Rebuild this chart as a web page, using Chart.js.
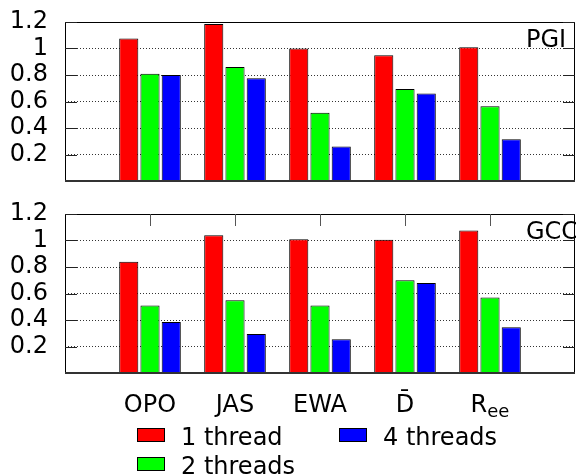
<!DOCTYPE html>
<html>
<head>
<meta charset="utf-8">
<script src="https://cdn.jsdelivr.net/npm/chart.js@4"></script>
<style>
    html, body { margin: 0; padding: 0; background: #fff; }
    body { width: 576px; height: 476px; position: relative; overflow: hidden; font-family: 'DejaVu Sans', sans-serif; }
    .panel { position: absolute; left: 0; width: 576px; }
    #legend { position: absolute; left: 0; top: 0; width: 576px; height: 476px; pointer-events: none; }
    .item { position: absolute; font-size: 24px; line-height: 24px; color: #000; white-space: nowrap; }
    .swatch { position: absolute; width: 26px; height: 12px; border: 1px solid #000; }
</style>
</head>
<body>
<div class="panel" id="topWrap" style="top:0;height:190px;"><canvas id="pgiChart"></canvas></div>
<div class="panel" id="botWrap" style="top:190px;height:230px;"><canvas id="gccChart"></canvas></div>
<div id="legend"></div>

<script>
// categories on the x axis (empty slots at both ends, like the gnuplot original)
const categories = ['', 'OPO', 'JAS', 'EWA', 'D\u0304', 'R', ''];
const subscripts = ['', '', '', '', '', 'ee', ''];
const seriesNames = ['1 thread', '2 threads', '4 threads'];
const seriesColors = ['#ff0000', '#00ff00', '#0000ff'];

// PGI compiler
const pgi1 = [1.075, 1.185, 1.00, 0.95, 1.01];
const pgi2 = [0.81, 0.86, 0.515, 0.695, 0.565];
const pgi4 = [0.80, 0.775, 0.26, 0.66, 0.315];

// GCC compiler
const gcc1 = [0.84, 1.04, 1.01, 1.005, 1.075];
const gcc2 = [0.51, 0.55, 0.51, 0.70, 0.57];
const gcc4 = [0.385, 0.295, 0.255, 0.68, 0.345];

const yTicks = [0, 0.2, 0.4, 0.6, 0.8, 1, 1.2];

const FONT = 'DejaVu Sans';

// pad with nulls for the empty slots at both ends
function pad(arr) {
    return [null, ...arr, null];
}

// plot frame, inward tick marks, category labels and panel title
function framePlugin(title, bottomPanel) {
    return {
        id: 'frame_' + title,
        afterDraw(chart) {
            const { ctx, chartArea: a, scales } = chart;
            ctx.save();
            ctx.strokeStyle = '#000';
            ctx.lineWidth = 1;
            ctx.strokeRect(a.left + 0.5, a.top + 0.5, a.right - a.left - 1, a.bottom - a.top);

            // y ticks, inward on both sides
            ctx.strokeStyle = '#222';
            yTicks.forEach(v => {
                const y = Math.round(scales.y.getPixelForValue(v)) + 0.5;
                ctx.beginPath();
                ctx.moveTo(a.left, y); ctx.lineTo(a.left + 12, y);
                ctx.moveTo(a.right, y); ctx.lineTo(a.right - 12, y);
                ctx.stroke();
            });

            if (bottomPanel) {
                // x ticks on the top border
                ctx.strokeStyle = '#555';
                for (let i = 1; i < categories.length - 1; i++) {
                    const x = Math.round(scales.x.getPixelForValue(i)) + 0.5;
                    ctx.beginPath();
                    ctx.moveTo(x, a.top); ctx.lineTo(x, a.top + 12);
                    ctx.stroke();
                }

                // category labels (with subscripts)
                ctx.fillStyle = '#000';
                ctx.textBaseline = 'alphabetic';
                ctx.textAlign = 'left';
                const baseY = a.bottom + 39;
                categories.forEach((lab, i) => {
                    if (!lab) return;
                    ctx.font = '24px "' + FONT + '"';
                    const w1 = ctx.measureText(lab).width;
                    ctx.font = '18px "' + FONT + '"';
                    const w2 = subscripts[i] ? ctx.measureText(subscripts[i]).width : 0;
                    const x0 = scales.x.getPixelForValue(i) - (w1 + w2) / 2;
                    ctx.font = '24px "' + FONT + '"';
                    ctx.fillText(lab, x0, baseY);
                    if (subscripts[i]) {
                        ctx.font = '18px "' + FONT + '"';
                        ctx.fillText(subscripts[i], x0 + w1, baseY + 5);
                    }
                });
            }

            // bottom axis line
            ctx.strokeStyle = '#333';
            ctx.lineWidth = 2;
            ctx.beginPath();
            ctx.moveTo(a.left, a.bottom); ctx.lineTo(a.right, a.bottom);
            ctx.stroke();

            // title in top right corner
            ctx.fillStyle = '#000';
            ctx.font = '24px "' + FONT + '"';
            ctx.textAlign = 'left';
            ctx.textBaseline = 'alphabetic';
            ctx.fillText(title, 526, a.top + 25);
            ctx.restore();
        }
    };
}

function makeChart(canvasId, s1, s2, s4, title, bottomPanel, padding) {
    const ctx = document.getElementById(canvasId).getContext('2d');
    const data = [s1, s2, s4];
    return new Chart(ctx, {
        type: 'bar',
        data: {
            labels: categories,
            datasets: seriesNames.map((name, i) => ({
                label: name,
                data: pad(data[i]),
                backgroundColor: seriesColors[i],
                borderColor: '#000',
                borderWidth: 1,
                categoryPercentage: 0.75,
                barPercentage: 0.9
            }))
        },
        options: {
            responsive: true,
            maintainAspectRatio: false,
            animation: false,
            layout: { padding: padding },
            plugins: {
                legend: { display: false },
                tooltip: { enabled: false }
            },
            scales: {
                x: {
                    display: false,
                    offset: false,
                    grid: { display: false }
                },
                y: {
                    min: 0,
                    max: 1.2,
                    ticks: {
                        stepSize: 0.2,
                        autoSkip: false,
                        padding: 0,
                        color: '#000',
                        font: { family: FONT, size: 24 },
                        callback: v => (Math.abs(v) < 1e-9 ? '' : String(Math.round(v * 10) / 10))
                    },
                    grid: {
                        drawTicks: true,
                        tickLength: 17,
                        tickColor: 'rgba(0,0,0,0)',
                        color: '#333',
                        lineWidth: 1
                    },
                    border: { display: false, dash: [1, 2] },
                    afterFit: s => {
                        s.width = 65;
                        s.paddingTop = 0;
                        s.paddingBottom = 0;
                    }
                }
            }
        },
        plugins: [framePlugin(title, bottomPanel)]
    });
}

makeChart('pgiChart', pgi1, pgi2, pgi4, 'PGI', false, { top: 22, bottom: 9, left: 0, right: 1 });
makeChart('gccChart', gcc1, gcc2, gcc4, 'GCC', true, { top: 24, bottom: 47, left: 0, right: 1 });

// legend: two columns, filled column first
const legendPos = [
    { left: 137, top: 428 },
    { left: 137, top: 457 },
    { left: 339, top: 428 }
];
const legendEl = document.getElementById('legend');
seriesNames.forEach((name, i) => {
    const sw = document.createElement('div');
    sw.className = 'swatch';
    sw.style.left = legendPos[i].left + 'px';
    sw.style.top = legendPos[i].top + 'px';
    sw.style.background = seriesColors[i];
    legendEl.appendChild(sw);

    const tx = document.createElement('div');
    tx.className = 'item';
    tx.style.left = (legendPos[i].left + 44) + 'px';
    tx.style.top = (legendPos[i].top - 3) + 'px';
    tx.textContent = name;
    legendEl.appendChild(tx);
});
</script>
</body>
</html>
